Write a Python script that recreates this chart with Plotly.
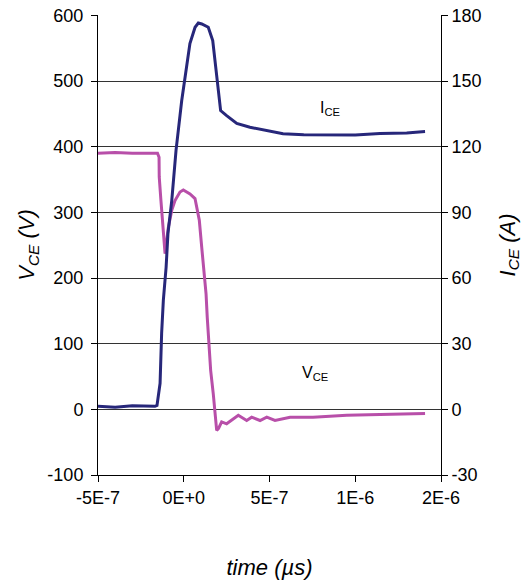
import plotly.graph_objects as go

# ---- data ----
t_ice = [-5.0e-7, -4.0e-7, -3.0e-7, -2.0e-7, -1.68e-7, -1.56e-7, -1.38e-7, -1.29e-7, -1.19e-7,
         -1.03e-7, -9.2e-8, -7.0e-8, -4.5e-8, -1.2e-8, 1.7e-8, 3.6e-8, 6.6e-8, 8.5e-8, 1.05e-7,
         1.25e-7, 1.43e-7, 1.69e-7, 1.88e-7, 1.98e-7, 2.15e-7, 2.5e-7, 3.09e-7, 3.86e-7, 4.84e-7,
         5.79e-7, 7.0e-7, 8.53e-7, 1.0e-6, 1.144e-6, 1.3e-6, 1.407e-6]
i_ice = [1.4, 1.0, 1.6, 1.2, 1.4, 1.8, 11.9, 34.7, 49.8, 64.8, 80.4, 95.4, 118.3, 141, 156.3,
         167.1, 174.6, 176.5, 176.1, 175.5, 174.6, 168.5, 156.3, 147.2, 136.5, 134.2, 130.6,
         128.9, 127.4, 125.9, 125.5, 125.6, 125.4, 126.0, 126.3, 126.9]

t_vce = [-5e-7, -4e-7, -3e-7, -2e-7, -1.53e-7, -1.44e-7, -1.43e-7, -1.33e-7, -1.23e-7, -1.15e-7,
         -1.09e-7, -9.0e-8, -7.0e-8, -5.1e-8, -2.2e-8, -2.6e-9, 3.64e-8, 6.56e-8, 7.9e-8, 9.07e-8,
         1.047e-7, 1.18e-7, 1.3e-7, 1.37e-7, 1.47e-7, 1.57e-7, 1.72e-7, 1.82e-7, 1.92e-7, 2.03e-7,
         2.21e-7, 2.5e-7, 2.89e-7, 3.18e-7, 3.67e-7, 3.96e-7, 4.45e-7, 4.84e-7, 5.32e-7, 6.2e-7,
         7.54e-7, 9.5e-7, 1.144e-6, 1.407e-6]
v_vce = [390, 391, 390, 390, 390, 384, 354, 318, 277, 253, 237, 277, 303, 318, 331, 334, 328,
         321, 303, 288, 247, 212, 176, 140, 100, 59, 24, -6.5, -32, -29, -19, -22, -14, -9, -17,
         -12, -17, -12, -17, -12, -12, -9, -8, -6.5]

x_tickvals = [-5e-7, 0, 5e-7, 1e-6, 1.5e-6]
x_ticktext = ["-5E-7", "0E+0", "5E-7", "1E-6", "2E-6"]
y_tickvals = [-100, 0, 100, 200, 300, 400, 500, 600]
y_ticktext = ["-100", "0", "100", "200", "300", "400", "500", "600"]
y2_tickvals = [-30, 0, 30, 60, 90, 120, 150, 180]
y2_ticktext = ["-30", "0", "30", "60", "90", "120", "150", "180"]

NAVY = "#27277A"
MAGENTA = "#B84FA9"
FONT = "Liberation Sans, Arial, sans-serif"

fig = go.Figure()
fig.add_trace(go.Scatter(x=t_vce, y=v_vce, mode="lines", name="VCE",
                         line=dict(color=MAGENTA, width=3), yaxis="y"))
fig.add_trace(go.Scatter(x=t_ice, y=i_ice, mode="lines", name="ICE",
                         line=dict(color=NAVY, width=3), yaxis="y2"))

fig.update_layout(
    width=532, height=586,
    margin=dict(l=98, r=91, t=15, b=111),
    paper_bgcolor="white", plot_bgcolor="white",
    showlegend=False,
    font=dict(family=FONT, size=18, color="black"),
    xaxis=dict(range=[-5e-7, 1.5e-6], tickvals=x_tickvals, ticktext=x_ticktext,
               showline=True, linecolor="black", linewidth=1, ticks="outside",
               ticklen=6, tickcolor="black", showgrid=False, zeroline=False,
               automargin=False,
               title=dict(text="<i>time (µs)</i>", standoff=53)),
    yaxis=dict(range=[-100, 600.6], tickvals=y_tickvals, ticktext=y_ticktext,
               showline=True, linecolor="black",
               linewidth=1, ticks="outside", ticklen=6, tickcolor="black",
               ticklabelstandoff=4, ticklabeloverflow="allow",
               showgrid=True, gridcolor="#333333", gridwidth=1, zeroline=False,
               automargin=False,
               title=dict(text="<i>V<sub>CE</sub> (V)</i>", standoff=6)),
    yaxis2=dict(range=[-30, 180.18], tickvals=y2_tickvals, ticktext=y2_ticktext,
                overlaying="y", side="right",
                showline=True, linecolor="black", linewidth=1, ticks="outside",
                ticklen=6, tickcolor="black", showgrid=False, zeroline=False,
                ticklabeloverflow="allow",
                automargin=False,
                title=dict(text="<i>I<sub>CE</sub> (A)</i>", standoff=18)),
    annotations=[
        dict(x=8.53e-7, y=458, xref="x", yref="y", text="I<sub>CE</sub>",
             showarrow=False, font=dict(size=16)),
        dict(x=7.65e-7, y=55, xref="x", yref="y", text="V<sub>CE</sub>",
             showarrow=False, font=dict(size=16)),
    ],
)

fig.write_html("out.html", config={"displayModeBar": False},
               post_script="document.body.style.margin='0px';")
